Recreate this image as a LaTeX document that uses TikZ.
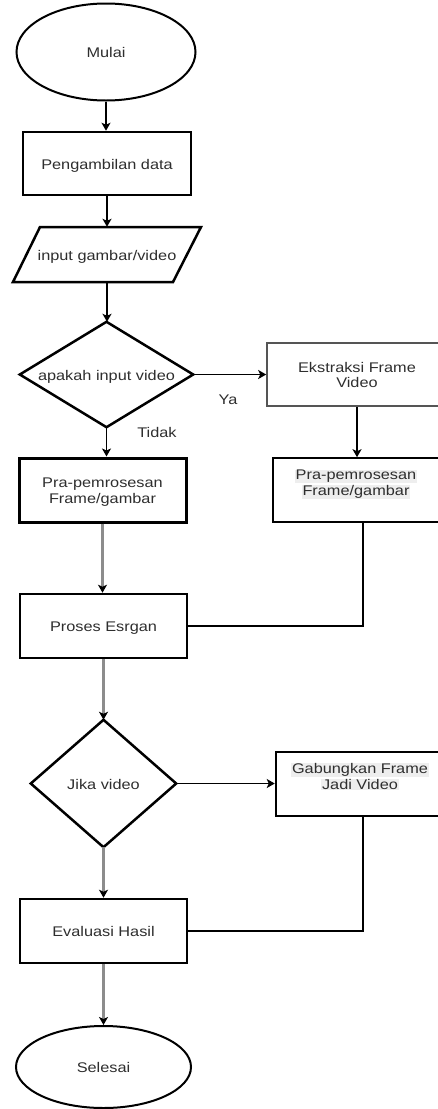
\documentclass[tikz,border=0pt]{standalone}
\usepackage{fontspec}
\setmainfont{Liberation Sans}
\usetikzlibrary{arrows.meta,shapes.geometric}
\definecolor{txt}{HTML}{2E2E2E}
\definecolor{hl}{HTML}{EEEEEE}
\definecolor{gl}{HTML}{8C8C8C}
\definecolor{bd}{HTML}{555555}
\newcommand\tx[1]{\raisebox{-2.5pt}[\height][\depth]{\scalebox{1.165}[1]{\begin{tabular}{@{}c@{}}#1\end{tabular}}}}
\newcommand\hb[1]{{\setlength\fboxsep{0.6pt}\colorbox{hl}{#1}}}
\begin{document}
\begin{tikzpicture}[x=1pt,y=-1pt,
  font=\fontsize{14}{15.7}\selectfont,
  every node/.style={text=txt, inner sep=0pt},
  box/.style={draw=black, rectangle, line width=2.5pt},
  hide/.style={draw=none, rectangle},
  arr/.style={line width=1.5pt, draw=black, -{Stealth[length=8pt,width=9pt,inset=2pt]}},
  garr/.style={line width=2.2pt, draw=gl, -{Stealth[length=8pt,width=9pt,inset=2pt,fill=black,color=black]}},
  plain/.style={line width=1.5pt, draw=black}]
\useasboundingbox (0,0) rectangle (438,1109);
\clip (0,0) rectangle (438,1109);

\node[ellipse, draw=black, line width=2pt, minimum width=179, minimum height=97] (mulai) at (106,52) {\tx{Mulai}};
\node[box, minimum width=168, minimum height=63] (peng) at (107,163.5) {\tx{Pengambilan data}};
\node[hide, minimum width=160, minimum height=55] (inp) at (107,254.5) {\tx{input gambar/video}};
\draw[line width=2.5pt, line join=miter] (40,227) -- (201,227) -- (173,282) -- (13,282) -- cycle;

\node[hide, minimum width=173, minimum height=105] (dec1) at (106.5,374.5) {\tx{apakah input video}};
\draw[line width=2.5pt] (dec1.north) -- (dec1.east) -- (dec1.south) -- (dec1.west) -- cycle;

\node[box, draw=bd, line width=1.6pt, minimum width=180, minimum height=63] (ekst) at (357,374.5) {\tx{Ekstraksi Frame\\Video}};
\node[box, line width=1.6pt, minimum width=166, minimum height=64] (prar) at (356,490) {};
\node (prart) at ([yshift=8pt]prar.center) {\tx{\hb{Pra-pemrosesan}\\\hb{Frame/gambar}}};

\node[box, line width=3pt, minimum width=167, minimum height=64] (pral) at (102.5,490) {\tx{Pra-pemrosesan\\Frame/gambar}};
\node[box, minimum width=167, minimum height=64] (proses) at (103.5,626) {\tx{Proses Esrgan}};

\node[hide, minimum width=145, minimum height=127] (jika) at (103.5,783.5) {\tx{Jika video}};
\draw[line width=2.5pt] (jika.north) -- (jika.east) -- (jika.south) -- (jika.west) -- cycle;

\node[box, minimum width=168, minimum height=64] (gab) at (360,784) {};
\node (gabt) at ([yshift=8pt]gab.center) {\tx{\hb{Gabungkan Frame}\\\hb{Jadi Video}}};

\node[box, minimum width=167, minimum height=64] (eval) at (103.5,931) {\tx{Evaluasi Hasil}};
\node[ellipse, draw=black, line width=2pt, minimum width=175, minimum height=82] (selesai) at (103.5,1067) {\tx{Selesai}};

\node (ya) at (228,399) {\tx{Ya}};
\node (tidak) at (157,432) {\tx{Tidak}};

\coordinate (rx) at (363,0);

\draw[arr] (mulai.south) -- (mulai.south |- peng.north);
\draw[arr] (peng.south) -- (peng.south |- inp.north);
\draw[arr] (inp.south) -- (inp.south |- dec1.north);
\draw[arr] (dec1.south) -- (dec1.south |- pral.north);
\draw[arr] (dec1.east) -- (dec1.east -| ekst.west);
\draw[arr] (ekst.south) -- (ekst.south |- prar.north);
\draw[garr] (pral.south) -- (pral.south |- proses.north);
\draw[garr] (proses.south) -- (proses.south |- jika.north);
\draw[arr] (jika.east) -- (jika.east -| gab.west);
\draw[garr] (jika.south) -- (jika.south |- eval.north);
\draw[garr] (eval.south) -- (eval.south |- selesai.north);
\draw[plain] (prar.south -| rx) |- (proses.east);
\draw[plain] (gab.south -| rx) |- (eval.east);
\end{tikzpicture}
\end{document}
